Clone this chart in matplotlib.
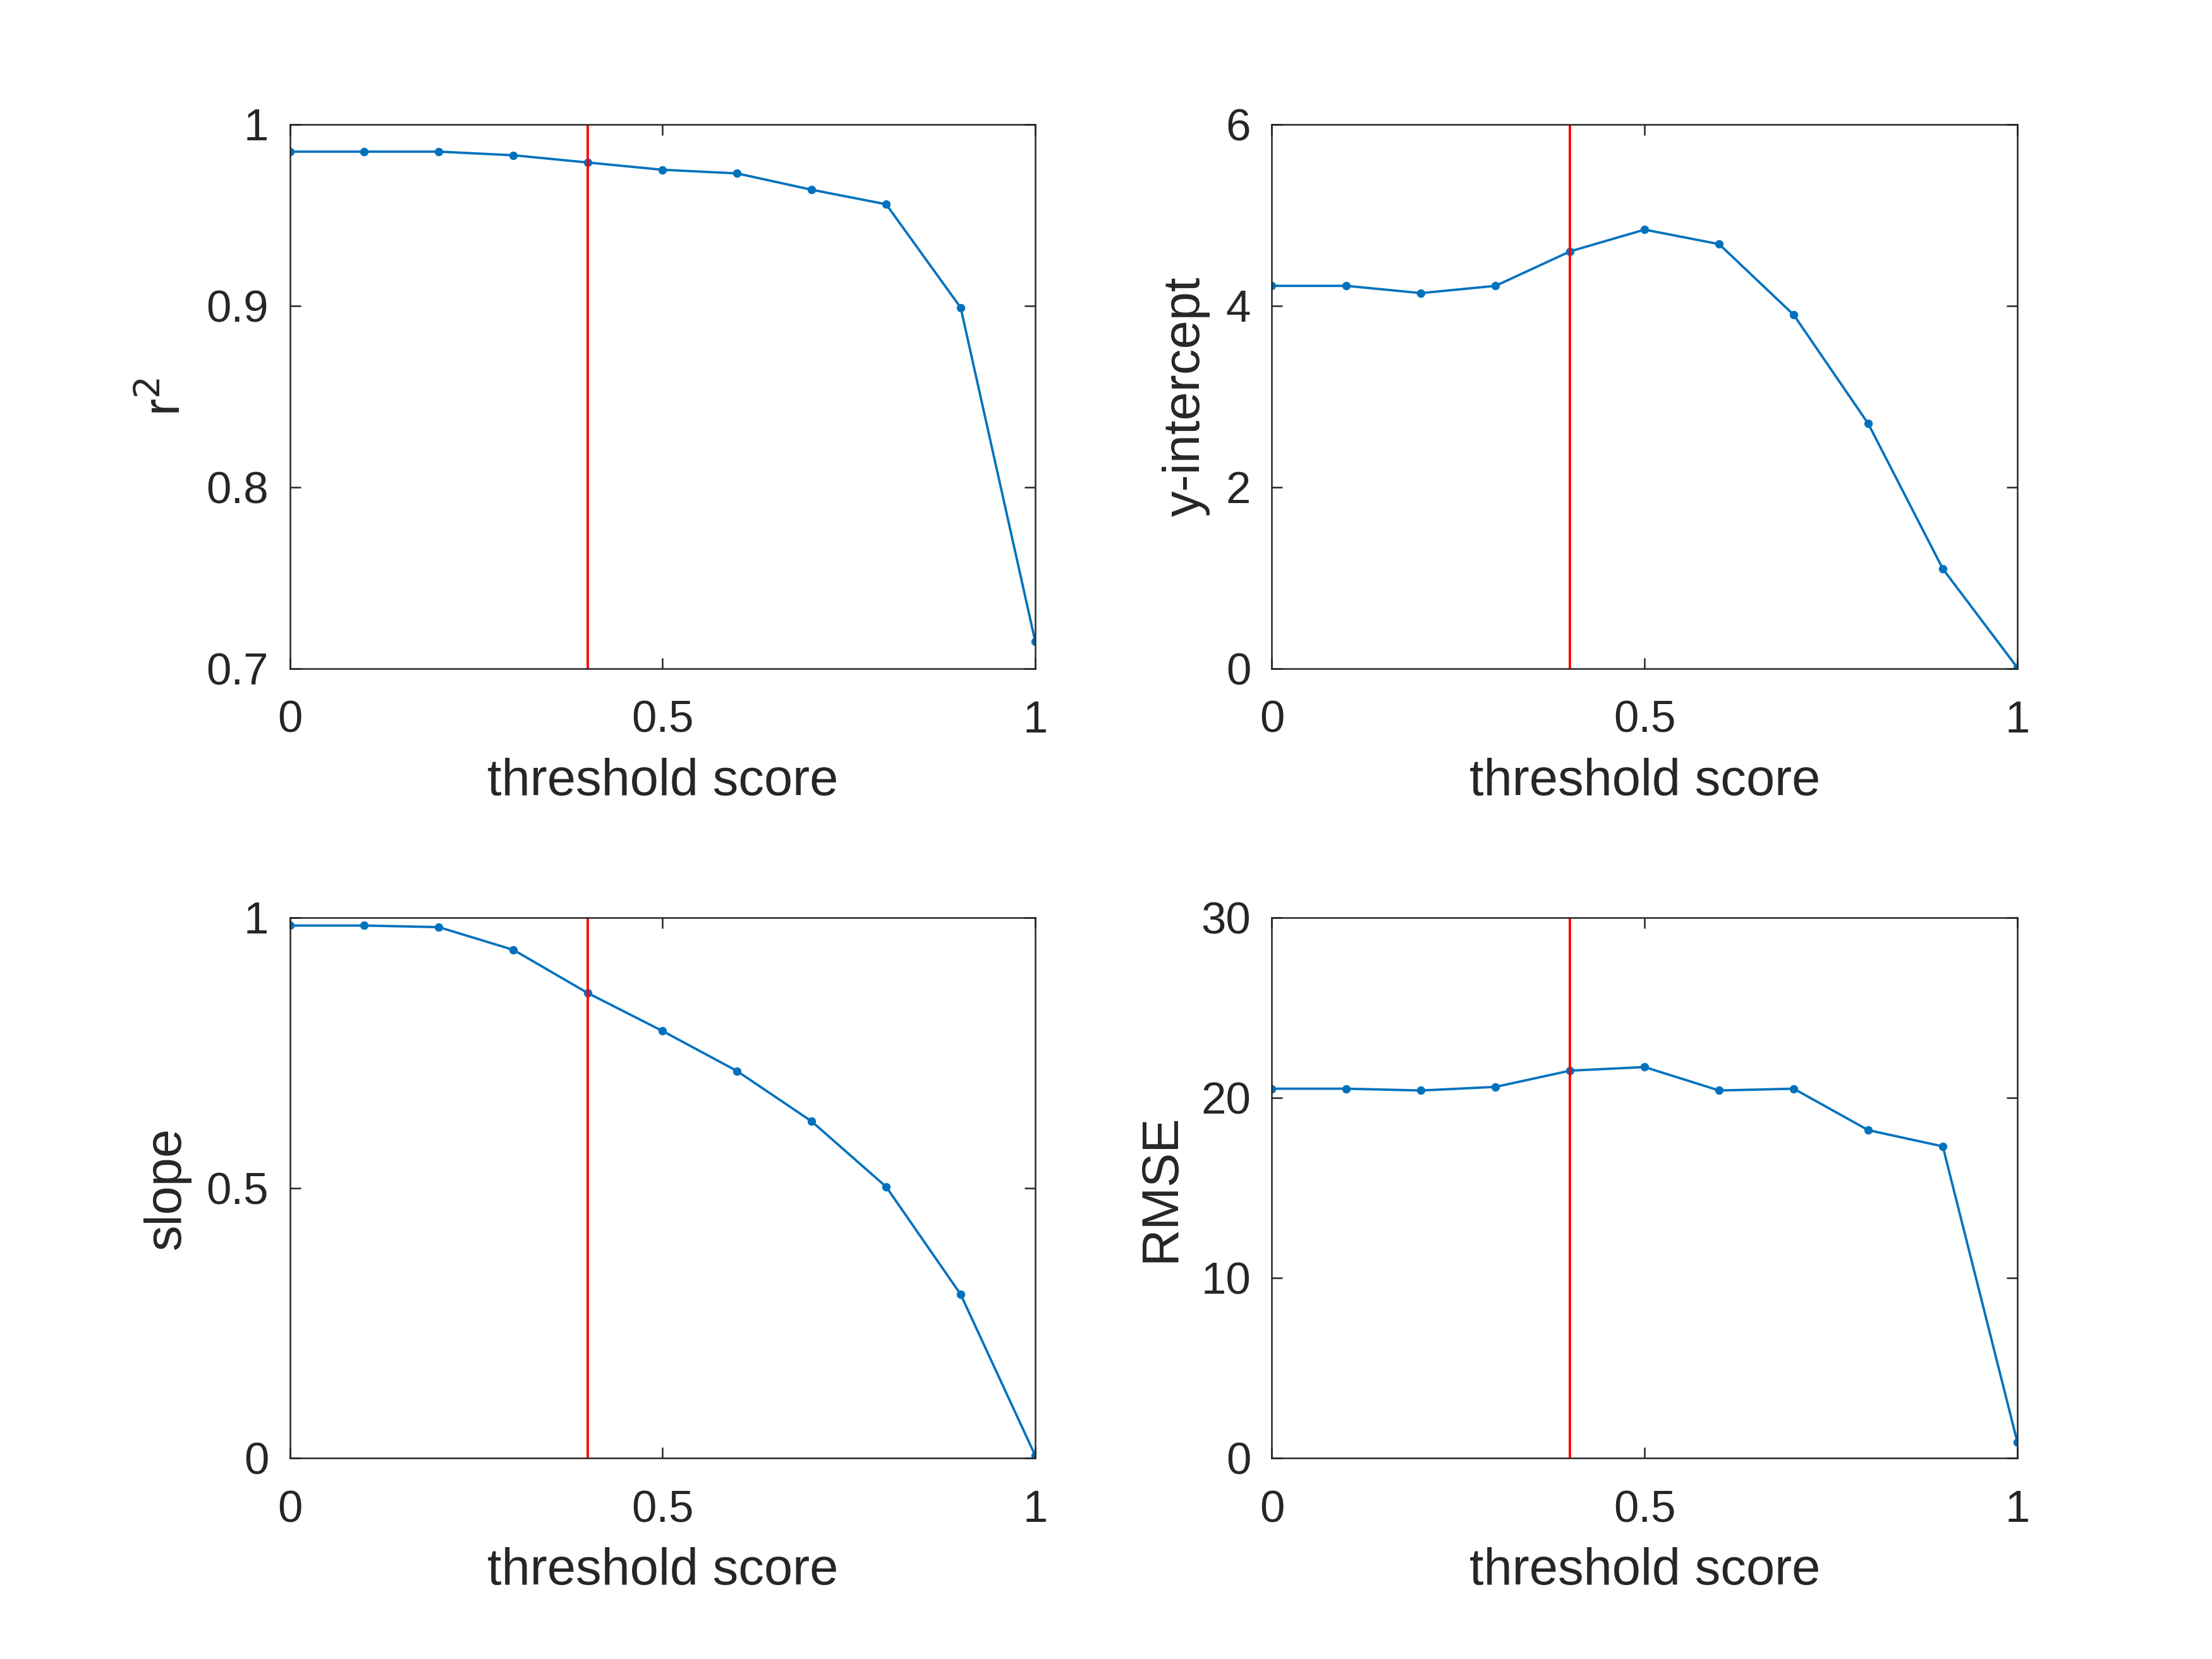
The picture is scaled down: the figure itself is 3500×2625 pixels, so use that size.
import matplotlib.pyplot as plt
import numpy as np

plt.rcParams['font.family'] = ['Liberation Sans', 'DejaVu Sans']

threshold = [0.0, 0.1, 0.2, 0.3, 0.4, 0.5, 0.6, 0.7, 0.8, 0.9, 1.0]
r2 = [0.985, 0.985, 0.985, 0.983, 0.979, 0.975, 0.973, 0.964, 0.956, 0.899, 0.715]
yint = [4.22, 4.22, 4.14, 4.22, 4.60, 4.84, 4.68, 3.90, 2.70, 1.10, 0.01]
slope = [0.985, 0.985, 0.982, 0.940, 0.860, 0.790, 0.716, 0.623, 0.502, 0.303, 0.005]
rmse = [20.5, 20.5, 20.4, 20.6, 21.5, 21.7, 20.4, 20.5, 18.2, 17.3, 0.9]
cutoff = 0.4

panels = [
    (r2, r'r$^2$', (0.7, 1), [0.7, 0.8, 0.9, 1], ['0.7', '0.8', '0.9', '1']),
    (yint, 'y-intercept', (0, 6), [0, 2, 4, 6], ['0', '2', '4', '6']),
    (slope, 'slope', (0, 1), [0, 0.5, 1], ['0', '0.5', '1']),
    (rmse, 'RMSE', (0, 30), [0, 10, 20, 30], ['0', '10', '20', '30']),
]

# axes boxes (left, bottom, width, height) in figure fractions
boxes = [
    (0.131, 0.597, 0.337, 0.328),
    (0.575, 0.597, 0.337, 0.328),
    (0.131, 0.121, 0.337, 0.326),
    (0.575, 0.121, 0.337, 0.326),
]

fig = plt.figure(figsize=(3500 / 300, 2625 / 300), dpi=300)

for box, (vals, label, ylim, ticks, labels) in zip(boxes, panels):
    ax = fig.add_axes(box)
    ax.plot(threshold, vals, color='#0072BD', lw=0.9, marker='o', ms=2.2)
    ax.axvline(cutoff, color='red', lw=0.9)
    ax.set_xlim(0, 1)
    ax.set_ylim(*ylim)
    ax.set_xticks([0, 0.5, 1])
    ax.set_xticklabels(['0', '0.5', '1'])
    ax.set_yticks(ticks)
    ax.set_yticklabels(labels)
    ax.tick_params(direction='in', labelsize=17, top=True, right=True, length=4, width=0.6, colors='#262626')
    ax.tick_params(axis='x', pad=12)
    ax.tick_params(axis='y', pad=8)
    for s in ax.spines.values():
        s.set_linewidth(0.6)
        s.set_color('#262626')
    ax.set_xlabel('threshold score', fontsize=19.5, color='#262626', labelpad=6)
    ax.set_ylabel(label, fontsize=19.5, color='#262626', labelpad=6)

fig.savefig('out.png', dpi=300, facecolor='white')
